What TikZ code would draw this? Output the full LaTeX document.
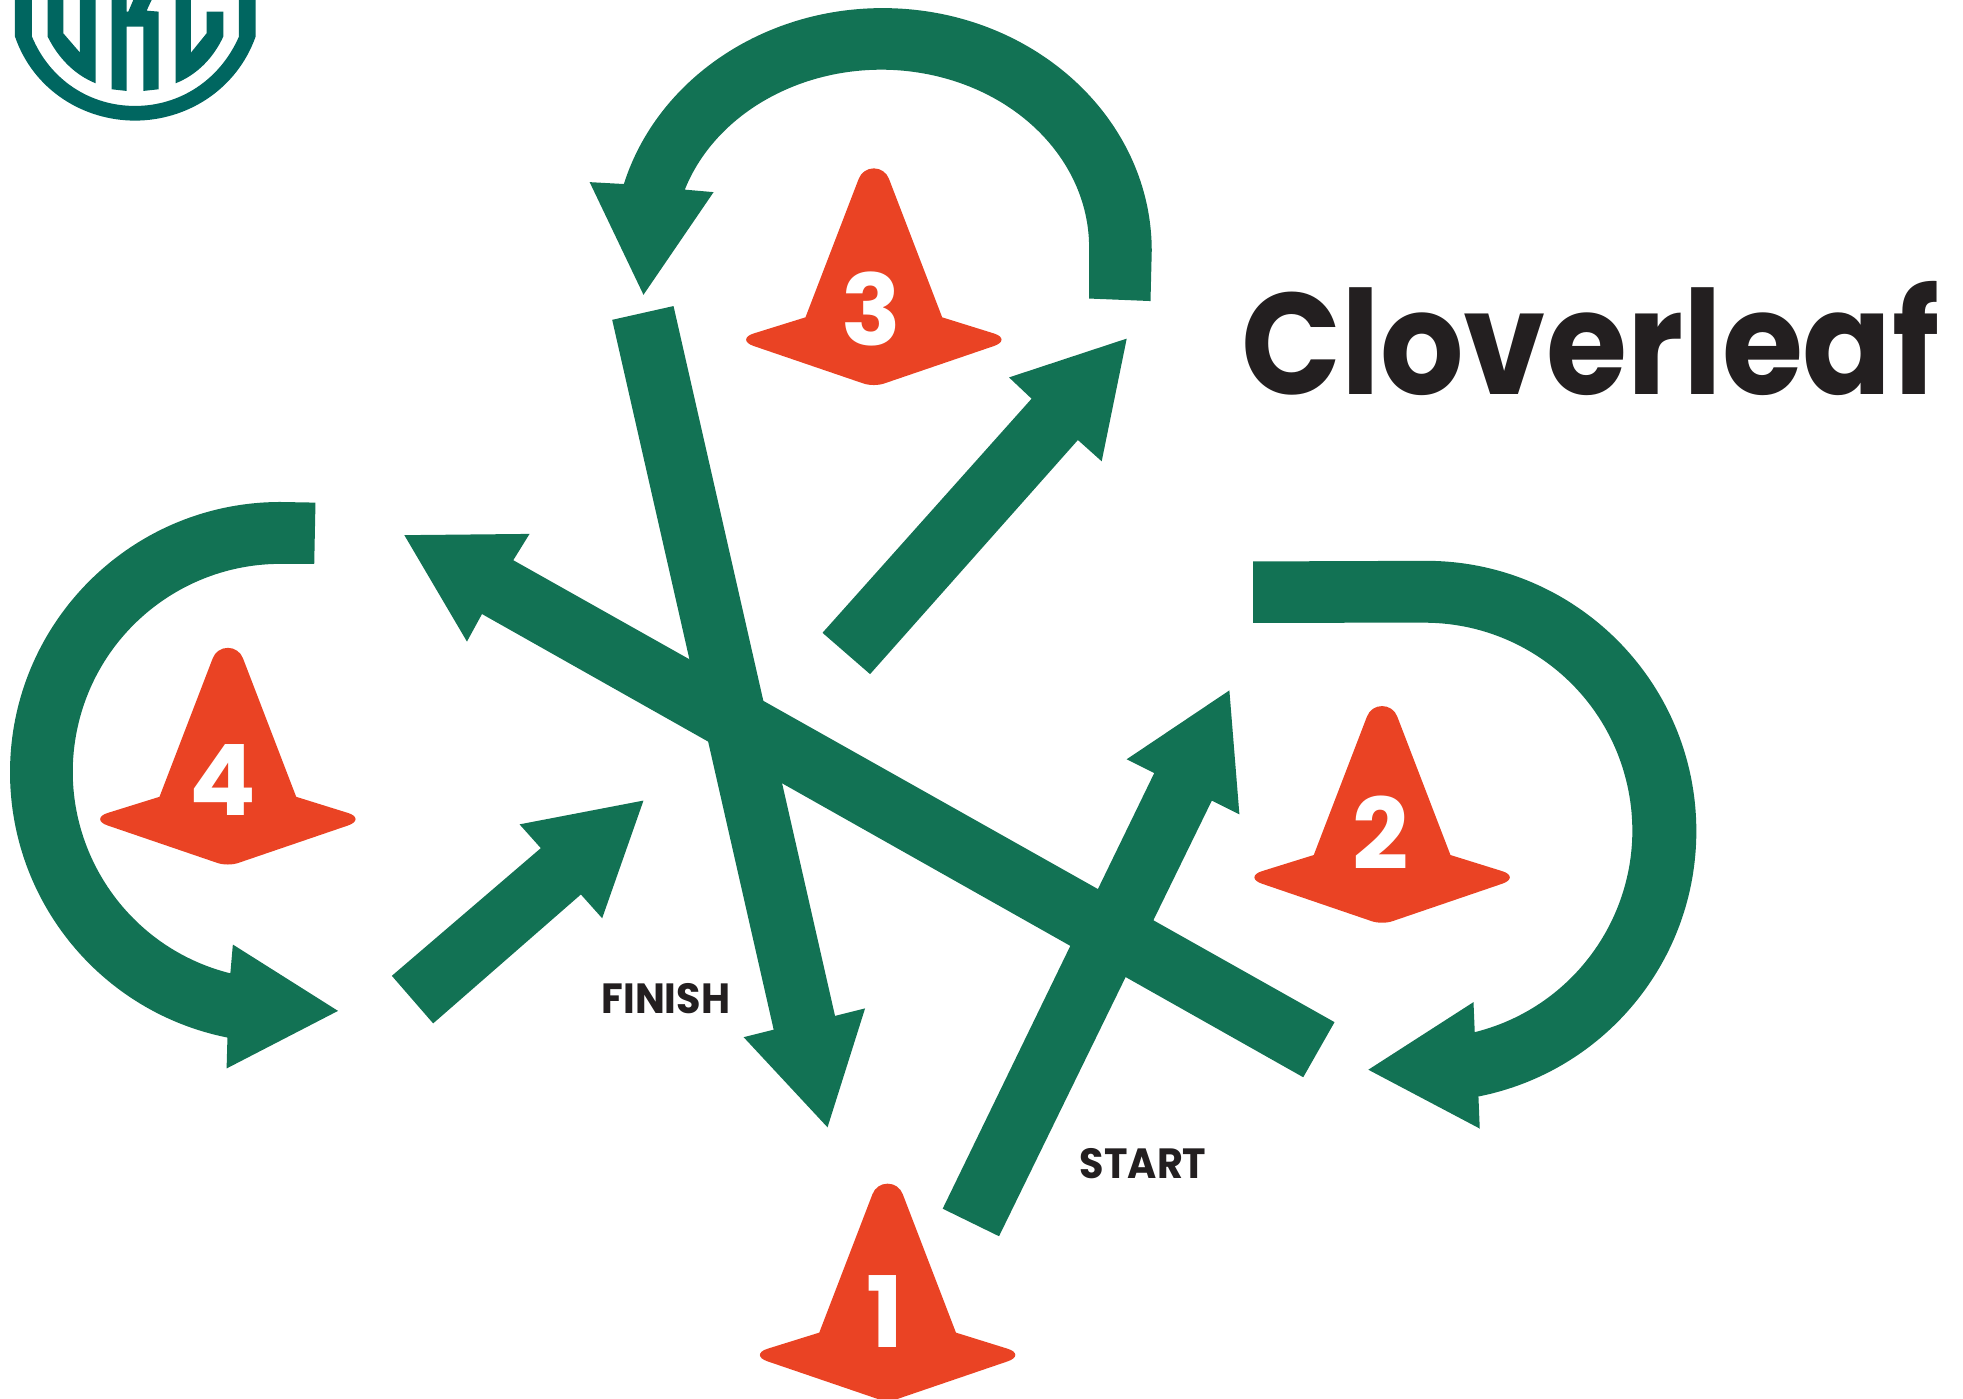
\documentclass[tikz,border=0pt]{standalone}
\usepackage{fontspec}
\setmainfont{Poppins}
\newfontfamily\tagfont[FakeStretch=0.94]{Poppins}
\newfontfamily\titlefont[FakeStretch=0.91]{Poppins}
\usepackage{tikz}
\definecolor{TrackGreen}{HTML}{127254}
\definecolor{ConeRed}{HTML}{EA4324}
\definecolor{LogoTeal}{HTML}{006660}
\definecolor{InkBlack}{HTML}{231F20}
\tikzset{
  lane/.style={fill=TrackGreen,draw=none},
  conepic/.pic={
    \fill[ConeRed] (-54.6,-119) -- (-12.1,-8.4) .. controls (-10.2,-3.3) and (-5.5,0) .. (0,0)
      .. controls (5.5,0) and (10.2,-3.3) .. (12.1,-8.4) -- (54.6,-119) -- (96,-131.9)
      .. controls (104,-134.4) and (104,-139.2) .. (96,-141.9) -- (9.3,-171.5)
      .. controls (4,-173.6) and (-4,-173.6) .. (-9.3,-171.5) -- (-96,-141.9)
      .. controls (-104,-139.2) and (-104,-134.4) .. (-96,-131.9) -- cycle;
  },
  conenum/.style={text=white,font=\fontsize{28}{28}\selectfont\bfseries,inner sep=0pt},
  tag/.style={text=InkBlack,font=\tagfont\fontsize{12}{12}\selectfont\bfseries,inner sep=0pt},
}
\begin{document}
\begin{tikzpicture}[x=0.0125cm,y=0.0125cm]
  \useasboundingbox (0,0) rectangle (1568,1117.5);

  % logo
  \begin{scope}[shift={(0,1117.5)},xscale=.2662,yscale=-.2662,fill=LogoTeal]
    \fill (45,0) -- (45,110) .. controls (100,270) and (250,362) .. (405,362)
      .. controls (560,362) and (710,270) .. (767,110) -- (767,0) -- (717,0) -- (717,110)
      .. controls (660,240) and (540,318) .. (405,318)
      .. controls (270,318) and (150,240) .. (96,110) -- (96,0) -- cycle;
    \fill (143,0) -- (143,110) .. controls (175,175) and (225,225) .. (287,250) -- (287,0)
      -- (240,0) -- (240,158) -- (190,100) -- (190,0) -- cycle;
    \fill (335,0) -- (335,268) -- (380,273) -- (380,80) -- (430,80) -- (430,273) -- (476,268)
      -- (476,35) -- (440,32) -- (455,0) -- (400,0) -- (385,35) -- (380,35) -- (380,0) -- cycle;
    \fill (527,0) -- (527,250) .. controls (590,225) and (640,175) .. (670,110) -- (670,35)
      -- (620,35) -- (620,100) -- (573,158) -- (573,0) -- cycle;
  \end{scope}

  % cones
  \pic at (709,172) {conepic};
  \pic at (1104,553.5) {conepic};
  \pic at (698,983) {conepic};
  \pic at (182,600) {conepic};
  \node[conenum] (num1) at (707,70) {1};
  \node[conenum] (num2) at (1103,452) {2};
  \node[conenum] (num3) at (696,871) {3};
  \node[conenum] (num4) at (178,494.5) {4};

  % straight lanes
  \fill[lane] (753,152) -- (922,500) -- (900,511) -- (982,566) -- (990,467) -- (968,478) -- (798,130) -- cycle;
  \fill[lane] (1066,301) -- (410,670) -- (423,691) -- (323,690) -- (373,605) -- (385,627) -- (1041,257) -- cycle;
  \fill[lane] (489,862) -- (618,295) -- (594,289) -- (661,217) -- (691,312) -- (667,306) -- (538,873) -- cycle;
  \fill[lane] (657,612) -- (824,799) -- (806,816) -- (900,847) -- (880,749) -- (861,766) -- (695,579) -- cycle;
  \fill[lane] (313,338) -- (432,440) -- (415,459) -- (514,478) -- (481,384) -- (464,403) -- (346,300) -- cycle;

  % curved lanes
  \fill[lane] (1001,669) -- (1139,669.5) arc[start angle=90,end angle=-78.8,radius=216]
    -- (1182,216) -- (1093,263) -- (1177,317) -- (1178,293)
    arc[start angle=-76,end angle=90,radius=166] -- (1001,620) -- cycle;
  \fill[lane] (252,716) -- (224,716.5) arc[start angle=90,end angle=258.7,radius=216]
    -- (181,264) -- (270,310) -- (186,363) -- (184,340)
    arc[start angle=256,end angle=90,radius=166] -- (251,667) -- cycle;
  \fill[lane] (919,877) -- (920,917) arc[start angle=0,end angle=164,x radius=215,y radius=194]
    -- (471,972) -- (514,882) -- (570,964) -- (547,966)
    arc[start angle=161,end angle=0,x radius=166,y radius=142] -- (870,879) -- cycle;

  % labels
  \node[text=InkBlack,font=\titlefont\fontsize{41}{41}\selectfont\bfseries,inner sep=0pt,anchor=base west] (title) at (991,802.5) {Cloverleaf};
  \node[tag,anchor=base west] (finish) at (480,308) {FINISH};
  \node[tag,anchor=base west] (start) at (862,176.5) {START};
\end{tikzpicture}
\end{document}
